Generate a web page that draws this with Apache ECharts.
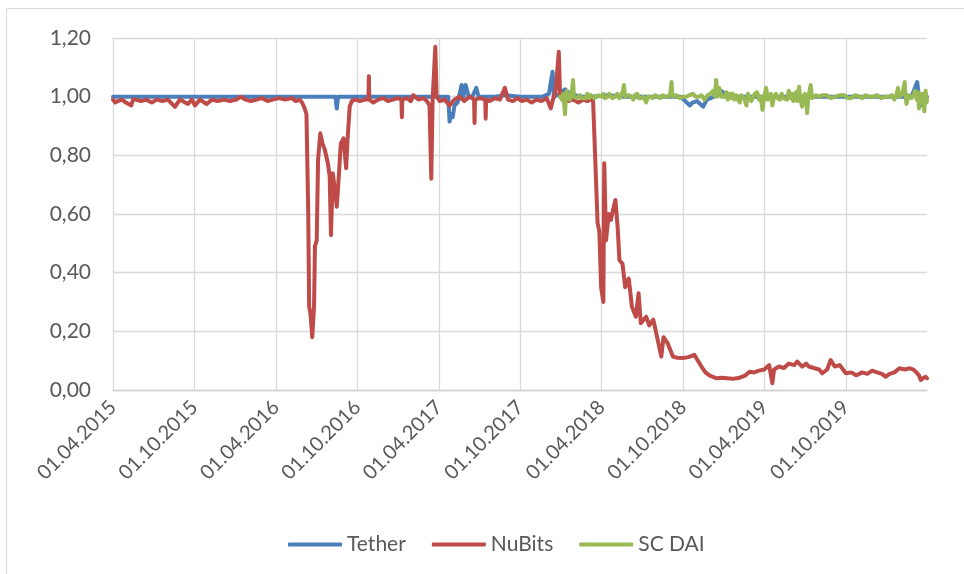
<!DOCTYPE html>
<html>
<head>
<meta charset="utf-8">
<script src="https://cdn.jsdelivr.net/npm/echarts@6/dist/echarts.min.js"></script>
<style>
html,body{margin:0;padding:0;background:#fff;}
#c{width:964px;height:574px;}
</style>
</head>
<body>
<div id="c"></div>
<script>
const seriesNames = ['Tether', 'NuBits', 'SC DAI'];
const tickLabels = ['01.04.2015','01.10.2015','01.04.2016','01.10.2016','01.04.2017','01.10.2017','01.04.2018','01.10.2018','01.04.2019','01.10.2019'];
const yTicks = [0, 0.2, 0.4, 0.6, 0.8, 1.0, 1.2];

const tether = [
['2015-04-01',1.0],['2015-07-15',1.0],['2015-11-01',1.0],['2016-03-01',1.0],['2016-06-20',1.0],
['2016-08-12',1.0],['2016-08-15',0.96],['2016-08-18',1.0],['2016-11-01',1.0],['2017-02-01',1.0],
['2017-04-03',1.0],['2017-04-22',1.0],['2017-04-25',0.915],['2017-04-28',0.94],['2017-05-02',0.93],
['2017-05-06',0.97],['2017-05-13',0.98],['2017-05-22',1.04],['2017-05-26',1.0],['2017-05-31',1.04],
['2017-06-07',1.0],['2017-06-15',1.0],['2017-06-24',1.03],['2017-06-29',1.0],['2017-07-20',1.0],
['2017-08-05',1.0],['2017-08-27',1.005],['2017-09-30',1.0],['2017-10-25',1.0],['2017-11-20',1.0],
['2017-12-04',1.01],['2017-12-12',1.085],['2017-12-15',1.0],['2017-12-29',1.01],['2018-01-09',1.025],
['2018-01-20',1.01],['2018-02-12',1.0],['2018-03-10',1.0],['2018-04-15',1.005],['2018-05-21',1.0],
['2018-06-20',1.0],['2018-07-25',1.0],['2018-08-30',1.0],['2018-09-25',1.0],['2018-10-16',0.97],
['2018-10-22',0.98],['2018-11-01',0.985],['2018-11-15',0.966],['2018-11-23',0.99],['2018-12-10',1.0],
['2018-12-25',1.02],['2019-01-13',1.0],['2019-02-20',1.0],['2019-03-28',1.0],['2019-05-01',1.0],
['2019-06-10',1.0],['2019-07-15',1.0],['2019-08-20',1.0],['2019-09-25',1.0],['2019-11-01',1.0],
['2019-12-10',1.0],['2020-01-20',1.0],['2020-02-25',1.0],['2020-03-09',1.05],['2020-03-13',1.0],
['2020-03-17',0.97],['2020-03-25',1.0],['2020-03-31',1.0]
];

const nubits = [
['2015-04-01',0.99],['2015-04-06',0.98],['2015-04-12',0.985],['2015-04-21',0.99],['2015-04-30',0.98],['2015-05-12',0.97],
['2015-05-16',0.99],['2015-05-22',0.99],['2015-06-03',0.985],['2015-06-14',0.99],['2015-06-27',0.98],['2015-07-08',0.99],
['2015-07-21',0.985],['2015-08-02',0.99],['2015-08-18',0.965],['2015-08-29',0.99],['2015-09-10',0.98],
['2015-09-16',0.975],['2015-09-25',0.99],['2015-10-02',0.97],['2015-10-13',0.99],['2015-10-28',0.975],
['2015-11-09',0.99],['2015-11-22',0.985],['2015-12-06',0.99],['2015-12-19',0.985],['2016-01-03',0.99],
['2016-01-12',1.0],['2016-01-23',0.99],['2016-02-04',0.985],['2016-02-17',0.99],['2016-02-29',0.995],
['2016-03-13',0.985],['2016-03-24',0.99],['2016-04-08',0.995],['2016-04-21',0.99],['2016-05-06',0.995],
['2016-05-15',0.985],['2016-05-24',0.99],['2016-05-29',0.98],['2016-06-04',0.96],['2016-06-08',0.94],
['2016-06-12',0.60],['2016-06-14',0.284],['2016-06-17',0.26],['2016-06-21',0.18],['2016-06-25',0.284],
['2016-06-27',0.49],['2016-07-01',0.51],['2016-07-04',0.784],['2016-07-09',0.875],['2016-07-14',0.84],
['2016-07-19',0.82],['2016-07-26',0.773],['2016-07-30',0.73],['2016-08-02',0.528],['2016-08-06',0.739],
['2016-08-11',0.68],['2016-08-15',0.625],['2016-08-20',0.74],['2016-08-24',0.84],['2016-08-30',0.858],
['2016-09-05',0.756],['2016-09-08',0.85],['2016-09-13',0.966],['2016-09-18',0.986],['2016-09-26',0.99],
['2016-10-06',0.985],['2016-10-17',0.99],['2016-10-25',0.99],['2016-10-26',1.07],['2016-10-27',0.99],
['2016-11-05',0.98],['2016-11-16',0.99],['2016-11-27',0.995],['2016-12-08',0.985],['2016-12-19',0.99],
['2016-12-30',0.995],['2017-01-07',0.99],['2017-01-08',0.93],['2017-01-09',0.99],['2017-01-19',0.995],
['2017-01-28',0.985],['2017-02-03',1.005],['2017-02-14',0.99],['2017-02-25',0.995],['2017-03-05',0.985],
['2017-03-11',0.97],['2017-03-15',0.72],['2017-03-18',0.99],['2017-03-24',1.17],['2017-03-27',1.0],
['2017-04-03',0.985],['2017-04-14',0.99],['2017-04-25',0.97],['2017-05-06',0.99],['2017-05-17',1.0],
['2017-05-28',0.985],['2017-06-09',1.0],['2017-06-19',0.99],['2017-06-20',0.91],['2017-06-21',0.99],
['2017-07-02',0.995],['2017-07-14',0.99],['2017-07-15',0.925],['2017-07-16',0.99],['2017-07-24',0.985],
['2017-08-05',0.995],['2017-08-16',0.99],['2017-08-27',1.03],['2017-09-03',0.99],['2017-09-14',0.985],
['2017-09-25',0.995],['2017-10-04',0.985],['2017-10-15',0.99],['2017-10-26',0.98],['2017-11-07',0.99],
['2017-11-17',0.985],['2017-11-29',0.995],['2017-12-08',0.96],['2017-12-13',0.99],['2017-12-19',1.02],
['2017-12-26',1.153],['2017-12-29',1.0],['2018-01-05',0.99],['2018-01-16',0.985],['2018-01-27',0.99],
['2018-02-08',0.98],['2018-02-19',0.99],['2018-02-28',0.985],['2018-03-07',0.99],['2018-03-13',0.985],
['2018-03-17',0.98],['2018-03-23',0.57],['2018-03-27',0.54],['2018-03-31',0.35],['2018-04-05',0.30],
['2018-04-07',0.773],['2018-04-11',0.51],['2018-04-17',0.60],['2018-04-22',0.58],['2018-04-26',0.61],
['2018-05-02',0.648],['2018-05-07',0.557],['2018-05-11',0.443],['2018-05-18',0.43],['2018-05-24',0.35],
['2018-06-01',0.38],['2018-06-08',0.284],['2018-06-17',0.25],['2018-06-23',0.33],['2018-06-28',0.228],
['2018-07-10',0.25],['2018-07-17',0.22],['2018-07-26',0.24],['2018-08-05',0.17],['2018-08-13',0.114],
['2018-08-18',0.18],['2018-08-27',0.16],['2018-09-08',0.114],['2018-09-18',0.11],['2018-09-30',0.109],
['2018-10-13',0.112],['2018-10-26',0.12],['2018-11-11',0.08],['2018-11-20',0.06],['2018-11-29',0.05],
['2018-12-14',0.04],['2018-12-26',0.042],['2019-01-07',0.04],['2019-01-20',0.038],['2019-02-05',0.042],
['2019-02-18',0.05],['2019-02-27',0.062],['2019-03-09',0.06],['2019-03-20',0.066],['2019-04-01',0.07],
['2019-04-12',0.085],['2019-04-16',0.05],['2019-04-19',0.023],['2019-04-23',0.07],['2019-05-04',0.08],
['2019-05-15',0.075],['2019-05-26',0.09],['2019-06-07',0.085],['2019-06-14',0.097],['2019-06-25',0.08],
['2019-07-04',0.09],['2019-07-10',0.08],['2019-07-21',0.075],['2019-08-02',0.07],['2019-08-09',0.057],
['2019-08-20',0.07],['2019-08-28',0.102],['2019-09-06',0.08],['2019-09-17',0.085],['2019-10-01',0.057],
['2019-10-13',0.06],['2019-10-24',0.05],['2019-11-07',0.06],['2019-11-18',0.055],['2019-11-29',0.066],
['2019-12-10',0.06],['2019-12-21',0.055],['2019-12-29',0.045],['2020-01-07',0.055],['2020-01-18',0.06],
['2020-01-29',0.074],['2020-02-10',0.07],['2020-02-21',0.074],['2020-02-29',0.07],['2020-03-06',0.062],
['2020-03-13',0.05],['2020-03-17',0.034],['2020-03-22',0.04],['2020-03-28',0.045],['2020-03-31',0.04]
];

const scdai = [
['2017-12-29',1.0],['2018-01-02',0.99],['2018-01-05',1.01],['2018-01-09',0.94],['2018-01-11',1.0],
['2018-01-13',1.02],['2018-01-17',1.0],['2018-01-20',0.99],['2018-01-24',1.01],['2018-01-27',1.057],
['2018-01-29',1.0],['2018-02-01',1.005],['2018-02-04',0.995],['2018-02-08',0.99],['2018-02-12',1.005],
['2018-02-16',0.995],['2018-02-20',1.0],['2018-02-24',0.995],['2018-02-28',1.01],['2018-03-04',0.995],
['2018-03-08',1.005],['2018-03-12',1.01],['2018-03-16',0.995],['2018-03-20',0.99],['2018-03-25',1.005],
['2018-04-01',1.0],['2018-04-05',1.01],['2018-04-08',0.995],['2018-04-11',0.99],['2018-04-15',1.0],
['2018-04-18',1.01],['2018-04-21',1.005],['2018-04-25',0.995],['2018-05-02',1.0],['2018-05-06',1.01],
['2018-05-11',0.995],['2018-05-15',1.005],['2018-05-19',1.02],['2018-05-21',1.04],['2018-05-24',1.0],
['2018-05-28',0.995],['2018-06-02',1.005],['2018-06-07',1.0],['2018-06-11',0.99],['2018-06-15',1.005],
['2018-06-20',1.01],['2018-06-24',0.995],['2018-06-29',0.995],['2018-07-04',1.0],['2018-07-10',0.98],
['2018-07-14',1.0],['2018-07-19',1.0],['2018-07-24',0.995],['2018-07-30',1.005],['2018-08-04',1.0],
['2018-08-11',0.995],['2018-08-16',1.005],['2018-08-22',1.0],['2018-08-28',1.0],['2018-09-02',1.01],
['2018-09-05',1.05],['2018-09-07',1.0],['2018-09-10',1.0],['2018-09-16',1.005],['2018-09-23',0.995],
['2018-10-01',1.0],['2018-10-08',1.0],['2018-10-15',1.005],['2018-10-23',1.01],['2018-10-29',1.0],
['2018-11-05',1.0],['2018-11-11',1.005],['2018-11-18',0.99],['2018-11-25',1.005],['2018-12-01',1.01],
['2018-12-07',1.02],['2018-12-11',1.0],['2018-12-14',1.057],['2018-12-17',1.0],['2018-12-21',1.03],
['2018-12-26',1.0],['2019-01-02',1.0],['2019-01-06',1.015],['2019-01-09',0.99],['2019-01-13',1.01],
['2019-01-17',0.995],['2019-01-20',1.01],['2019-01-24',0.99],['2019-01-28',1.005],['2019-02-01',0.99],
['2019-02-05',0.98],['2019-02-08',1.005],['2019-02-12',1.01],['2019-02-16',0.99],['2019-02-20',0.97],
['2019-02-23',1.01],['2019-02-27',1.01],['2019-03-03',0.985],['2019-03-07',0.99],['2019-03-11',1.01],
['2019-03-16',1.015],['2019-03-20',0.99],['2019-03-24',1.0],['2019-03-28',0.955],['2019-04-01',1.0],
['2019-04-05',1.03],['2019-04-09',0.99],['2019-04-12',0.985],['2019-04-16',1.01],['2019-04-19',0.97],
['2019-04-23',1.0],['2019-04-27',1.01],['2019-05-01',0.995],['2019-05-06',0.99],['2019-05-10',1.01],
['2019-05-14',0.995],['2019-05-18',1.0],['2019-05-22',0.99],['2019-05-26',1.02],['2019-05-30',0.995],
['2019-06-02',1.01],['2019-06-05',0.985],['2019-06-08',1.0],['2019-06-11',1.015],['2019-06-14',0.985],
['2019-06-18',1.034],['2019-06-21',0.99],['2019-06-25',0.966],['2019-06-28',1.0],['2019-07-01',1.01],
['2019-07-04',0.99],['2019-07-06',0.944],['2019-07-09',1.0],['2019-07-14',1.04],['2019-07-17',0.995],
['2019-07-21',0.99],['2019-07-26',1.005],['2019-08-02',1.0],['2019-08-10',1.005],['2019-08-20',1.005],
['2019-08-28',0.995],['2019-09-08',1.0],['2019-09-18',1.005],['2019-09-28',1.005],['2019-10-06',0.995],
['2019-10-13',0.995],['2019-10-22',1.005],['2019-10-31',1.0],['2019-11-07',0.995],['2019-11-14',1.005],
['2019-11-22',1.0],['2019-12-02',1.0],['2019-12-10',1.005],['2019-12-19',0.995],['2019-12-28',1.0],
['2020-01-07',1.0],['2020-01-12',1.005],['2020-01-18',0.99],['2020-01-22',1.005],['2020-01-26',1.03],
['2020-01-29',1.0],['2020-02-01',1.0],['2020-02-05',1.01],['2020-02-10',1.05],['2020-02-12',1.0],
['2020-02-14',0.975],['2020-02-18',1.005],['2020-02-21',1.01],['2020-02-25',0.995],['2020-02-28',1.0],
['2020-03-02',1.01],['2020-03-04',1.02],['2020-03-08',0.99],['2020-03-11',1.015],['2020-03-13',0.96],
['2020-03-16',1.0],['2020-03-20',1.01],['2020-03-23',0.99],['2020-03-25',0.95],['2020-03-27',1.01],
['2020-03-28',1.02],['2020-03-30',0.98],['2020-03-31',0.99]
];

const startDate = '2015-04-01';
const endDate = '2020-03-31';
const DAY = 86400000;
const t0 = Date.parse(startDate);
const toDay = d => Math.round((Date.parse(d) - t0) / DAY);
const toPoints = arr => arr.map(p => [toDay(p[0]), p[1]]);
const xMax = toDay(endDate);
const xStep = 182.7;

const colors = ['#4A7EBB', '#BE4B48', '#98B954'];
const font = 'Lato, "Open Sans", sans-serif';

const chart = echarts.init(document.getElementById('c'), null, {renderer: 'canvas'});
chart.setOption({
  animation: false,
  backgroundColor: '#ffffff',
  color: colors,
  graphic: [
    {type: 'line', shape: {x1: 6.5, y1: 8.5, x2: 964, y2: 8.5}, style: {stroke: '#d9d9d9', lineWidth: 1}},
    {type: 'line', shape: {x1: 6.5, y1: 8.5, x2: 6.5, y2: 574}, style: {stroke: '#d9d9d9', lineWidth: 1}}
  ],
  grid: {left: 113, right: 37, top: 38, bottom: 184, containLabel: false},
  legend: {
    data: seriesNames,
    left: 283,
    top: 529,
    icon: 'roundRect',
    itemWidth: 54,
    itemHeight: 4,
    itemGap: 26,
    textStyle: {color: '#595959', fontSize: 21, fontFamily: font, padding: [0,0,0,0]}
  },
  xAxis: {
    type: 'value',
    min: 0,
    max: xMax,
    interval: xStep,
    axisLine: {show: true, lineStyle: {color: '#d0d0d0', width: 1.3}},
    axisTick: {show: false},
    splitLine: {show: true, showMaxLine: false, lineStyle: {color: '#d9d9d9', width: 1.3}},
    axisLabel: {
      rotate: 45,
      margin: 14,
      color: '#595959',
      fontSize: 20,
      fontFamily: font,
      formatter: v => {
        const i = v / xStep;
        const r = Math.round(i);
        if (Math.abs(i - r) > 0.01) return '';
        return tickLabels[r] || '';
      }
    }
  },
  yAxis: {
    type: 'value',
    min: yTicks[0],
    max: yTicks[yTicks.length - 1],
    interval: 0.2,
    axisLine: {show: false},
    axisTick: {show: false},
    splitLine: {show: true, lineStyle: {color: '#d9d9d9', width: 1.3}},
    axisLabel: {
      margin: 22,
      color: '#595959',
      fontSize: 21,
      fontFamily: font,
      formatter: v => v.toFixed(2).replace('.', ',')
    }
  },
  series: [
    {name: seriesNames[0], type: 'line', data: toPoints(tether), showSymbol: false, symbol: 'none',
     lineStyle: {width: 4, color: colors[0], join: 'round', cap: 'round'}, z: 2},
    {name: seriesNames[1], type: 'line', data: toPoints(nubits), showSymbol: false, symbol: 'none',
     lineStyle: {width: 4, color: colors[1], join: 'round', cap: 'round'}, z: 3},
    {name: seriesNames[2], type: 'line', data: toPoints(scdai), showSymbol: false, symbol: 'none',
     lineStyle: {width: 4, color: colors[2], join: 'round', cap: 'round'}, z: 4}
  ]
});
</script>
</body>
</html>
